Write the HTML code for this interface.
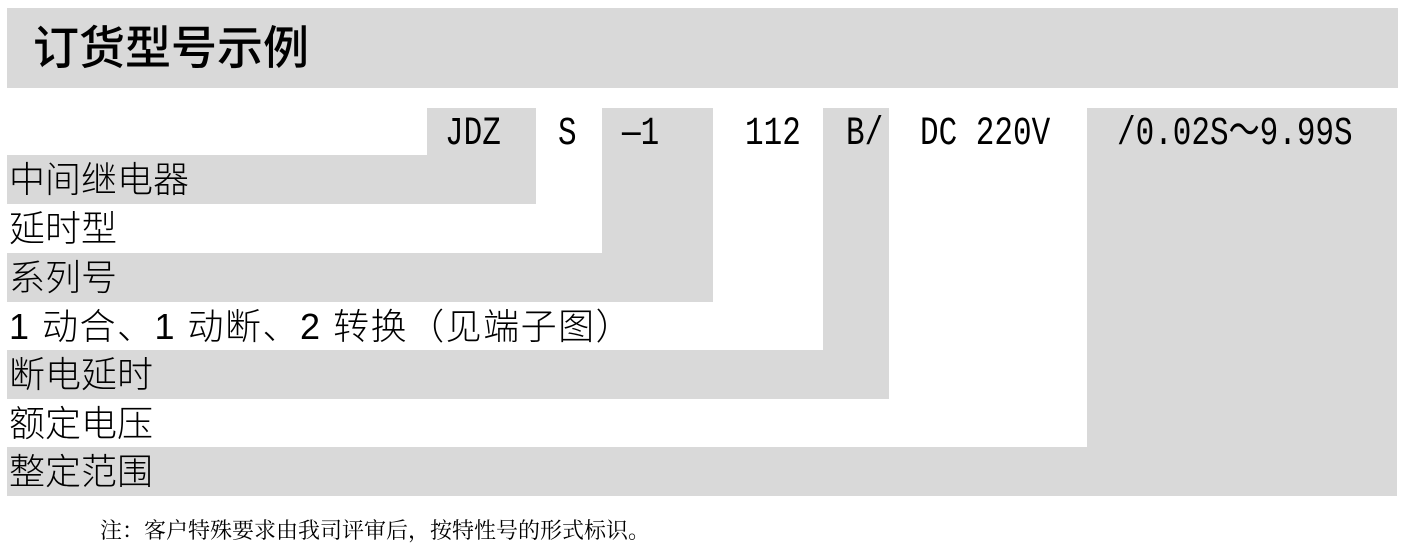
<!DOCTYPE html>
<html><head><meta charset="utf-8"><style>
body{margin:0;width:1403px;height:546px;background:#fff;position:relative;overflow:hidden}
.b{position:absolute;background:#d9d9d9}
.t{position:absolute;font-family:"Liberation Sans","Noto Sans CJK SC",sans-serif;font-size:36px;line-height:49px;color:#000;font-weight:300;white-space:nowrap}
.c{position:absolute;top:117px;font-family:"Liberation Mono",monospace;font-size:31px;line-height:36px;white-space:nowrap;transform:scale(1,1.3);transform-origin:0 50%}
</style></head><body>
<div class="b" style="left:7px;top:8px;width:1391px;height:80px"></div>
<div class="t" style="left:33px;top:23px;font-size:46px;line-height:50px;font-weight:500">订货型号示例</div>

<div class="b" style="left:427px;top:108px;width:109px;height:96px"></div>
<div class="b" style="left:7px;top:155px;width:529px;height:49px"></div>
<div class="b" style="left:602px;top:108px;width:111px;height:194px"></div>
<div class="b" style="left:7px;top:253px;width:706px;height:49px"></div>
<div class="b" style="left:823px;top:108px;width:66px;height:291px"></div>
<div class="b" style="left:7px;top:350px;width:882px;height:49px"></div>
<div class="b" style="left:1087px;top:108px;width:310px;height:388px"></div>
<div class="b" style="left:7px;top:447px;width:1390px;height:49px"></div>

<div class="c" style="left:445px">JDZ</div>
<div class="c" style="left:558px">S</div>
<div class="c" style="left:622px">—1</div>
<div class="c" style="left:745px">112</div>
<div class="c" style="left:846px">B/</div>
<div class="c" style="left:920px">DC 220V</div>
<div class="c" style="left:1117px">/0.02S～9.99S</div>

<div class="t" style="left:9px;top:155px">中间继电器</div>
<div class="t" style="left:9px;top:204px">延时型</div>
<div class="t" style="left:9px;top:253px">系列号</div>
<div class="t" style="left:9px;top:302px;letter-spacing:1.5px">1 动合、1 动断、2 转换（见端子图）</div>
<div class="t" style="left:9px;top:350px">断电延时</div>
<div class="t" style="left:9px;top:399px">额定电压</div>
<div class="t" style="left:9px;top:447px">整定范围</div>

<div class="t" style="left:100px;top:516px;font-size:22px;line-height:30px;font-family:'Liberation Serif','Noto Serif CJK SC',serif;font-weight:400">注：客户特殊要求由我司评审后，按特性号的形式标识。</div>
</body></html>
